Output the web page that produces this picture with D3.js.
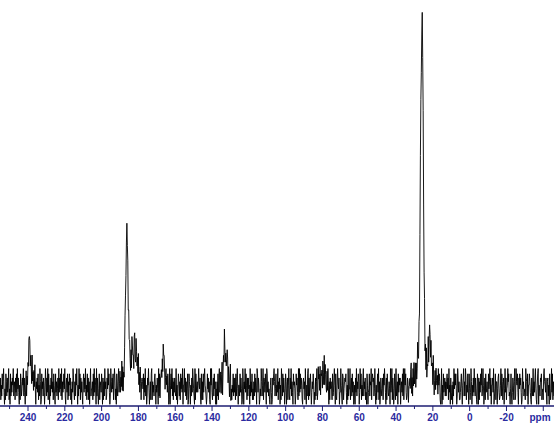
<!DOCTYPE html>
<html>
<head>
<meta charset="utf-8">
<script src="https://cdn.jsdelivr.net/npm/d3@7"></script>
<style>
  body { margin: 0; background: #fff; }
  svg { display: block; }
</style>
</head>
<body>
<svg id="chart" width="554" height="429"></svg>
<script>
// Spectrum sampling (ppm of first point, step between points)
const ppmStart = 255;
const ppmStep = 0.25;

// Baseline noise, one digit per sample
const noiseRows = [
  "37152846930418627359140826375924617382947305186247",
  "59273048163859672640825173940647381529601846275039",
  "62739184052749361852083624719374829163584920573816",
  "28571406397316285940529481736206837492518371605924",
  "46182937509273048165385071629461274958302963748159",
  "71408526935826391704169724535083520619744089317526",
  "39261840576481739250275940361891635278405374092816",
  "67483967404736285019058492716373291504862618473905",
  "59372614801864052739742091835635964720816183795420",
  "28473610959315728460406281793582790461731536982740",
  "69041538273718269405528374019606493851727450926381",
  "41628375098375014296259176384098362410573017589624",
  "82539164705196283740386047159217492630856402857319",
  "29384751067461930528917258403648503172691396728054",
  "50741928632839506174641823795082159647033952087146",
  "76830519244915728360150739264860394815279264713085",
  "03482659178672493051583916027424718596307185326409",
  "35917402861924608375704638291595831276044638915072",
  "82570613942705463554635817292539168507246193047285",
  "47295861039051834726268471935073150629485840297361",
  "13684057926297153840841396052739527410860716385924",
  "95027183463184692705573902481660478312592861570493",
  "71459682304820375169129658307485730194623419762805",
  "58631074292637941058905427681341896537206725084139",
  "38162"
];
// Intensity offset that each noise digit stands for
const noiseLevels = [-4.6, -3.4, -2.4, -1.4, -0.5, 0.5, 1.4, 2.4, 3.5, 4.9];

// Resonances: first ppm of each run and the intensity above baseline per sample
const peakRuns = [
  { from: 241, values: [0.5, 0.8, 1, 1.5, 2, 3, 5, 8, 12, 10, 8, 7, 6.5, 5.5, 5, 4, 3.5, 2.5, 2, 1.5, 1] },
  { from: 190, values: [0.5, 0.7, 1, 1.2, 1.5, 2, 2.5, 3, 3.5, 4.5, 6, 9, 14, 22, 32, 39, 43, 39, 33, 25, 17, 14, 12, 10, 9,
                        8.5, 8.5, 8.5, 8.5, 9, 9, 9.5, 10, 9.5, 9, 10, 10.5, 9, 8, 6.5, 5, 4, 3, 2.5, 2, 1.8, 1.5, 1.2, 1] },
  { from: 168, values: [0.5, 1, 1.5, 2.2, 3, 4, 5.5, 6.5, 7, 6, 5, 4, 3, 2.5, 2, 1.5, 1] },
  { from: 135, values: [0.5, 0.7, 1, 1.7, 2.5, 4.5, 7, 10, 13, 11.5, 10, 8.5, 7, 6, 5, 4.2, 3.5, 3, 2.5, 2, 1.5, 1.2, 1] },
  { from: 82, values: [0.5, 0.7, 1, 1.5, 2, 2.5, 3, 3.5, 4, 4.3, 4.5, 4.3, 4, 3.5, 3, 2.5, 2, 1.5, 1, 0.7, 0.5] },
  { from: 33, values: [0.5, 0.6, 0.8, 0.9, 1, 1.2, 1.5, 1.7, 2, 2.2, 2.5, 2.7, 3, 3.2, 3.5, 4, 4.5, 5, 5.5, 6.2,
                       7, 8.5, 10, 15, 24, 40, 62, 75, 85, 93, 99, 88, 72, 50, 30, 20, 13, 9, 7, 5.5,
                       5, 5.5, 7, 8.5, 10, 11.5, 13, 13.5, 12.5, 10, 8, 6.5, 5, 4, 3.5, 3, 2.5, 2.2, 2, 1.7,
                       1.5, 1.2, 1, 0.7, 0.5] }
];

// Axis ticks
const majorTicks = [240, 220, 200, 180, 160, 140, 120, 100, 80, 60, 40, 20, 0, -20, -40];
const majorLabels = ["240", "220", "200", "180", "160", "140", "120", "100", "80", "60", "40", "20", "0", "-20", ""];
const minorTicks = [250, 230, 210, 190, 170, 150, 130, 110, 90, 70, 50, 30, 10, -10, -30];
const unitLabel = "ppm";

const width = 554, height = 429;
const axisY = 406;
const navy = "#1c1c72";
const labelBlue = "#2b2ba0";

// Build the trace from the noise digits plus the resonances
const noise = noiseRows.join("").split("").map(Number);
const spectrum = noise.map((d, i) => ({ ppm: ppmStart - i * ppmStep, v: noiseLevels[d] }));
peakRuns.forEach(run => {
  const i0 = Math.round((ppmStart - run.from) / ppmStep);
  run.values.forEach((v, k) => { if (spectrum[i0 + k]) spectrum[i0 + k].v += v; });
});

const svg = d3.select("#chart");

const x = d3.scaleLinear().domain([254.95, -46.1]).range([0, width]);
const y = d3.scaleLinear().domain([0, 100]).range([387, 10.5]);

// Trace
const line = d3.line()
  .x(d => x(d.ppm))
  .y(d => y(d.v));

svg.append("path")
  .datum(spectrum)
  .attr("fill", "none")
  .attr("stroke", "#000")
  .attr("stroke-width", 0.9)
  .attr("d", line);

// Minor ticks
const minorAxis = svg.append("g")
  .attr("transform", `translate(0,${axisY})`)
  .call(d3.axisBottom(x).tickValues(minorTicks).tickSize(3).tickSizeOuter(0).tickFormat(""));
minorAxis.select(".domain").remove();
minorAxis.selectAll("line").attr("stroke", navy);

// Major ticks with labels
const labelOf = new Map(majorTicks.map((t, i) => [t, majorLabels[i]]));
const majorAxis = svg.append("g")
  .attr("transform", `translate(0,${axisY})`)
  .call(d3.axisBottom(x).tickValues(majorTicks).tickSize(5).tickPadding(3).tickSizeOuter(0)
    .tickFormat(d => labelOf.get(d)));

majorAxis.select(".domain")
  .attr("stroke", navy)
  .attr("stroke-width", 1.3)
  .attr("d", `M0,0H${width}`);
majorAxis.selectAll("line").attr("stroke", navy);
majorAxis.selectAll("text")
  .attr("fill", labelBlue)
  .style("font-family", "'Liberation Sans', Arial, sans-serif")
  .style("font-size", "10px")
  .style("font-weight", "bold");

// Unit label at the right end
svg.append("text")
  .attr("x", 540)
  .attr("y", 421)
  .attr("text-anchor", "middle")
  .attr("fill", labelBlue)
  .style("font-family", "'Liberation Sans', Arial, sans-serif")
  .style("font-size", "10px")
  .style("font-weight", "bold")
  .text(unitLabel);
</script>
</body>
</html>
